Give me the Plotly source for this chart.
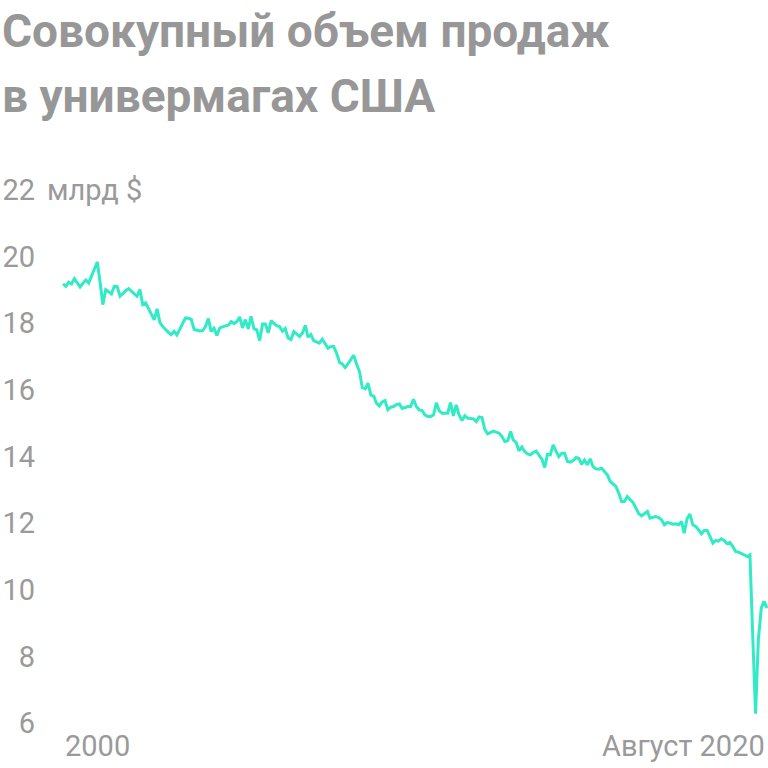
import pandas as pd
import plotly.graph_objects as go

# месячные данные, млрд $, январь 2000 - август 2020
months = pd.date_range("2000-01-01", "2020-08-01", freq="MS")
sales = [
    19.18, 19.11, 19.23, 19.18, 19.34, 19.21, 19.09, 19.20, 19.30, 19.21, 19.42, 19.63,
    19.84, 19.20, 18.56, 19.01, 18.95, 18.88, 19.11, 19.10, 18.81, 18.90, 18.98, 19.04,
    18.95, 18.87, 18.81, 19.01, 18.56, 18.61, 18.45, 18.31, 18.10, 18.43, 18.02, 17.90,
    17.80, 17.72, 17.66, 17.76, 17.65, 17.82, 18.00, 18.16, 18.15, 18.12, 17.81, 17.79,
    17.77, 17.78, 17.90, 18.14, 17.75, 17.85, 17.63, 17.86, 17.90, 17.92, 17.94, 18.05,
    17.99, 18.05, 18.19, 17.86, 18.11, 17.83, 18.21, 17.84, 17.80, 17.48, 17.98, 17.98,
    17.71, 18.08, 18.00, 17.93, 17.90, 17.76, 17.84, 17.56, 17.51, 17.75, 17.68, 17.60,
    17.70, 17.94, 17.58, 17.66, 17.48, 17.45, 17.40, 17.52, 17.40, 17.25, 17.30, 17.30,
    17.10, 16.82, 16.78, 16.67, 16.78, 16.92, 17.04, 16.78, 16.55, 16.07, 16.03, 16.20,
    15.84, 15.81, 15.60, 15.52, 15.64, 15.68, 15.40, 15.48, 15.50, 15.56, 15.58, 15.44,
    15.47, 15.50, 15.50, 15.72, 15.50, 15.40, 15.38, 15.25, 15.20, 15.20, 15.25, 15.61,
    15.37, 15.30, 15.30, 15.30, 15.62, 15.22, 15.55, 15.25, 15.08, 15.22, 15.15, 15.14,
    15.13, 15.05, 15.19, 15.17, 14.82, 14.68, 14.72, 14.76, 14.73, 14.70, 14.60, 14.45,
    14.47, 14.75, 14.50, 14.42, 14.17, 14.29, 14.15, 14.08, 14.05, 14.12, 14.16, 14.05,
    13.92, 13.67, 14.06, 14.05, 14.35, 14.16, 14.00, 14.10, 14.10, 13.85, 13.83, 13.88,
    13.97, 13.94, 13.76, 13.89, 13.75, 13.93, 13.70, 13.63, 13.62, 13.65, 13.56, 13.45,
    13.25, 13.17, 13.10, 12.90, 12.65, 12.65, 12.80, 12.70, 12.62, 12.45, 12.28, 12.22,
    12.28, 12.35, 12.15, 12.18, 12.20, 12.17, 12.10, 11.95, 12.02, 12.00, 11.97, 11.98,
    11.95, 12.05, 11.70, 12.13, 12.27, 11.95, 11.90, 11.80, 11.68, 11.78, 11.78, 11.60,
    11.40, 11.48, 11.46, 11.53, 11.48, 11.38, 11.42, 11.30, 11.15, 11.13, 11.10, 11.05,
    11.00, 11.05, 8.70, 6.28, 8.50, 9.45, 9.65, 9.45,
]
y_ticks = [6, 8, 10, 12, 14, 16, 18, 20, 22]
title_lines = ["Совокупный объем продаж", "в универмагах США"]
x_labels = ["2000", "Август 2020"]

grey = "#9a9a9a"
fig = go.Figure()
fig.add_trace(go.Scatter(x=months, y=sales, mode="lines",
                         line=dict(color="#30ebc5", width=3), hoverinfo="skip"))

fig.update_layout(
    width=768, height=768,
    margin=dict(l=40, r=0, t=190, b=45),
    paper_bgcolor="white", plot_bgcolor="white",
    showlegend=False,
    font=dict(family="Roboto", color=grey, size=29),
)
fig.update_xaxes(range=["1999-04-30", "2020-08-12"], showgrid=False,
                 zeroline=False, showticklabels=False, showline=False)
fig.update_yaxes(range=[6, 22], tickvals=y_ticks, ticktext=[str(v) for v in y_ticks],
                 showgrid=False, zeroline=False, showline=False,
                 ticklabelstandoff=4, tickfont=dict(size=29, color=grey))

fig.add_annotation(x=0.007, y=22, xref="paper", yref="y", text="млрд $",
                   showarrow=False, xanchor="left", yanchor="middle",
                   font=dict(size=29, color=grey))
fig.add_annotation(x=months[0], y=-0.043, xref="x", yref="paper", text=x_labels[0],
                   showarrow=False, xanchor="left", yanchor="middle",
                   font=dict(size=29, color=grey))
fig.add_annotation(x=months[-1], y=-0.043, xref="x", yref="paper", text=x_labels[1],
                   showarrow=False, xanchor="right", yanchor="middle",
                   font=dict(size=29, color=grey))

for i, line in enumerate(title_lines):
    fig.add_annotation(x=-0.055, y=[1.298, 1.176][i], xref="paper", yref="paper",
                       text="<b>" + line + "</b>", showarrow=False,
                       xanchor="left", yanchor="middle",
                       font=dict(family="Roboto", size=46, color="#979797"))

# убрать отступ body, чтобы график стоял в углу окна
fig.write_html("out.html", config={"displayModeBar": False},
               post_script="document.body.style.margin='0';document.body.style.overflow='hidden';")
